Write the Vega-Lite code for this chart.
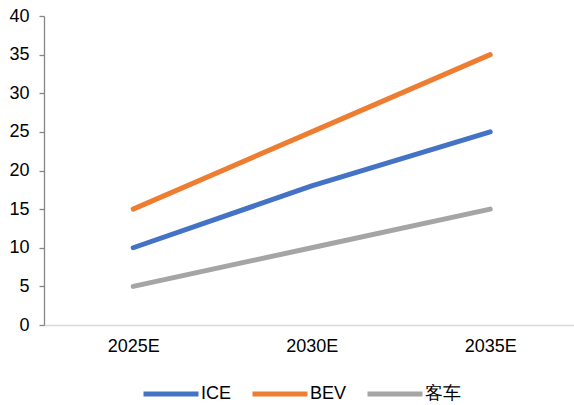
{
  "$schema": "https://vega.github.io/schema/vega-lite/v6.json",
  "width": 530,
  "height": 309,
  "autosize": {"type": "none"},
  "padding": {"left": 44, "top": 16, "right": 0, "bottom": 80},
  "background": "white",
  "config": {
    "view": {"stroke": null},
    "font": "Liberation Sans",
    "axis": {"labelFont": "Liberation Sans", "labelFontSize": 18, "labelColor": "#000000", "grid": false, "title": null}
  },
  "data": {
    "values": [
      {"year": "2025E", "series": "ICE", "value": 10},
      {"year": "2030E", "series": "ICE", "value": 18},
      {"year": "2035E", "series": "ICE", "value": 25},
      {"year": "2025E", "series": "BEV", "value": 15},
      {"year": "2030E", "series": "BEV", "value": 25},
      {"year": "2035E", "series": "BEV", "value": 35},
      {"year": "2025E", "series": "客车", "value": 5},
      {"year": "2030E", "series": "客车", "value": 10},
      {"year": "2035E", "series": "客车", "value": 15}
    ]
  },
  "mark": {"type": "line", "strokeWidth": 5, "strokeCap": "round", "strokeJoin": "round"},
  "encoding": {
    "x": {
      "field": "year",
      "type": "ordinal",
      "scale": {"type": "point", "padding": 0.4846, "align": 0.5156},
      "axis": {
        "labelAngle": 0,
        "ticks": false,
        "domainColor": "#D9D9D9",
        "domainWidth": 1.5,
        "labelPadding": 12
      }
    },
    "y": {
      "field": "value",
      "type": "quantitative",
      "scale": {"domain": [0, 40], "nice": false},
      "axis": {
        "values": [0, 5, 10, 15, 20, 25, 30, 35, 40],
        "domainColor": "#868686",
        "domainWidth": 1.3,
        "tickColor": "#868686",
        "tickWidth": 1.3,
        "tickSize": 5,
        "labelPadding": 10
      }
    },
    "color": {
      "field": "series",
      "type": "nominal",
      "sort": ["ICE", "BEV", "客车"],
      "scale": {"domain": ["ICE", "BEV", "客车"], "range": ["#4472C4", "#ED7D31", "#A5A5A5"]},
      "legend": {
        "title": null,
        "orient": "none",
        "direction": "horizontal",
        "legendX": 97,
        "legendY": 348,
        "symbolType": "stroke",
        "symbolSize": 3025,
        "symbolStrokeWidth": 5,
        "labelFontSize": 18,
        "labelFont": "Liberation Sans",
        "labelColor": "#000000",
        "labelOffset": 0,
        "columnPadding": 10
      }
    }
  }
}
